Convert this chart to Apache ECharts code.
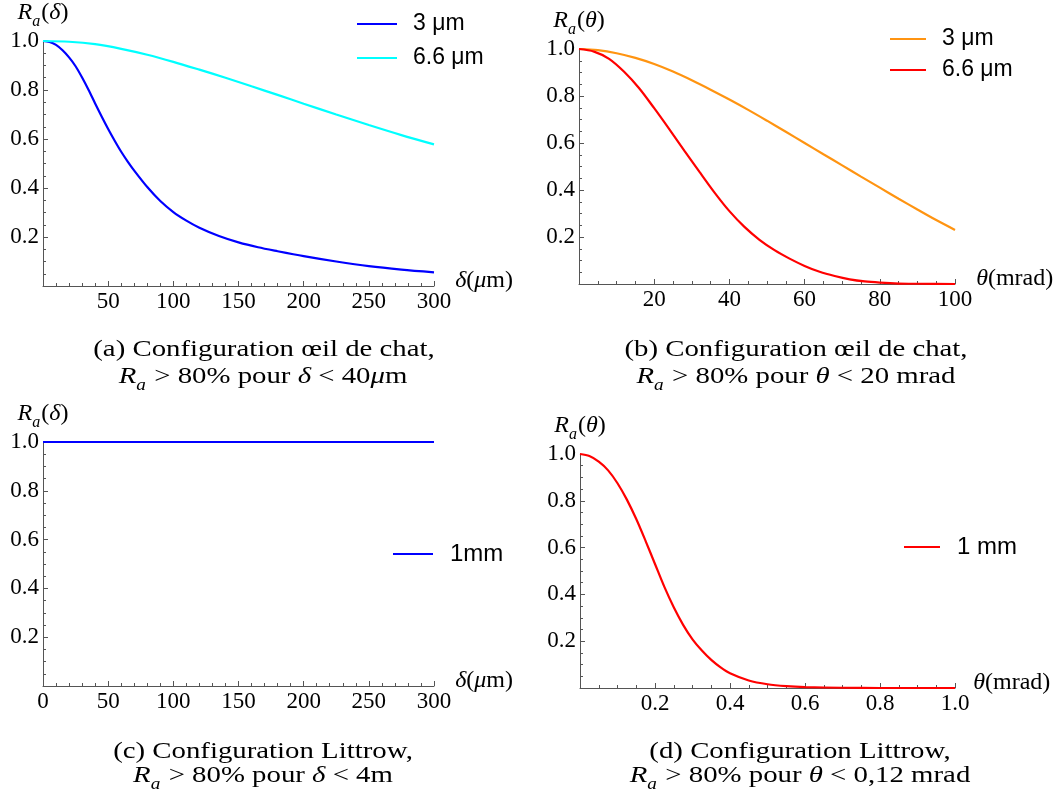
<!DOCTYPE html>
<html><head><meta charset="utf-8">
<script src="https://cdn.jsdelivr.net/npm/echarts@6/dist/echarts.min.js"></script>
<style>html,body{margin:0;padding:0;background:#fff}#c{width:1059px;height:799px}</style>
</head><body><div id="c"></div>
<script>
// ---------- data ----------
// (a) cat's eye, R_a vs delta (µm)
const deltaA3 = [0,5,10,15,20,25,30,35,40,45,50,55,60,65,70,80,90,100,110,120,135,150,165,180,200,225,250,275,300];
const ra3umA  = [1.0,0.996,0.984,0.962,0.933,0.897,0.851,0.800,0.745,0.692,0.641,0.593,0.548,0.508,0.471,0.404,0.347,0.302,0.267,0.238,0.204,0.178,0.158,0.142,0.122,0.100,0.081,0.067,0.056];
const deltaA66 = [0,20,40,60,80,100,120,140,160,180,200,225,250,275,300];
const ra66umA  = [1.0,0.997,0.987,0.968,0.944,0.915,0.883,0.85,0.815,0.78,0.744,0.70,0.657,0.616,0.578];
// (b) cat's eye, R_a vs theta (mrad)
const thetaB3 = [0,5,10,15,20,25,30,35,40,45,50,55,60,65,70,75,80,85,90,95,100];
const ra3umB  = [1.0,0.995,0.982,0.962,0.936,0.904,0.867,0.827,0.785,0.741,0.695,0.648,0.6,0.552,0.505,0.457,0.41,0.363,0.317,0.272,0.23];
const thetaB66 = [0,4,8,12,16,20,24,28,32,36,40,44,48,52,56,60,64,68,72,76,80,85,90,100];
const ra66umB  = [1.0,0.989,0.958,0.903,0.833,0.748,0.659,0.568,0.478,0.39,0.31,0.243,0.188,0.144,0.108,0.077,0.052,0.034,0.02,0.011,0.006,0.002,0.001,0];
// (c) Littrow, R_a vs delta (µm)
const deltaC = [0,100,200,300];
const ra1mmC = [1.0,1.0,1.0,1.0];
// (d) Littrow, R_a vs theta (mrad)
const thetaD = [0,0.025,0.05,0.075,0.1,0.125,0.15,0.175,0.2,0.225,0.25,0.275,0.3,0.325,0.35,0.375,0.4,0.45,0.5,0.55,0.6,0.7,0.8,1.0];
const ra1mmD = [1.0,0.991,0.967,0.93,0.875,0.805,0.722,0.628,0.53,0.432,0.345,0.27,0.208,0.16,0.12,0.088,0.063,0.032,0.016,0.008,0.004,0.001,0,0];

const legendNames = {a3:'3 μm', a66:'6.6 μm', b3:'3 μm', b66:'6.6 μm', c1:'1mm', d1:'1 mm'};
const yTickLabels = v => v.toFixed(1);

// ---------- styling helpers ----------
const AX = '#555';
const SERIF = 'Liberation Serif';
function mathRich(size) {
  const pad = Math.round(size * 0.2);
  const base = {fontFamily: SERIF, fontSize: size, lineHeight: size, color: '#000', verticalAlign: 'bottom', padding: [0, 0, pad, 0]};
  const sub = Math.round(size * 0.68);
  return {
    i: Object.assign({}, base, {fontStyle: 'italic'}),
    r: Object.assign({}, base),
    s: {fontFamily: SERIF, fontStyle: 'italic', fontSize: sub, lineHeight: sub, color: '#000', verticalAlign: 'bottom', padding: [0, 1, 0, 0]}
  };
}
const pairs = (xs, ys) => xs.map((x, i) => [x, ys[i]]);

function xAxis(gi, max, interval, minorSplit, showMin, fmt, name) {
  return {
    type: 'value', gridIndex: gi, min: 0, max: max, interval: interval,
    axisLine: {show: true, onZero: false, lineStyle: {color: AX, width: 1}},
    axisTick: {show: true, inside: true, length: 5, lineStyle: {color: AX}},
    minorTick: {show: true, splitNumber: minorSplit, length: 3, lineStyle: {color: AX}},
    splitLine: {show: false},
    axisLabel: {showMinLabel: showMin, showMaxLabel: true, margin: 4, color: '#000', fontFamily: SERIF, fontSize: 23, formatter: fmt},
    name: name, nameLocation: 'end', nameGap: 13,
    nameTextStyle: {rich: mathRich(24)}
  };
}
function yAxis(gi, name) {
  return {
    type: 'value', gridIndex: gi, min: 0, max: 1, interval: 0.2,
    axisLine: {show: true, onZero: false, lineStyle: {color: AX, width: 1}},
    axisTick: {show: true, inside: true, length: 5, lineStyle: {color: AX}},
    minorTick: {show: true, splitNumber: 4, length: 3, lineStyle: {color: AX}},
    splitLine: {show: false},
    axisLabel: {showMinLabel: false, margin: 4, color: '#000', fontFamily: SERIF, fontSize: 23, formatter: yTickLabels},
    name: name, nameLocation: 'end', nameGap: 3,
    nameTextStyle: {rich: mathRich(24)}
  };
}
function lineSeries(id, gi, xs, ys, color) {
  return {
    name: id, type: 'line', xAxisIndex: gi, yAxisIndex: gi,
    data: pairs(xs, ys), showSymbol: false, symbol: 'none',
    smooth: 0.3, clip: false,
    lineStyle: {color: color, width: 2.2}, itemStyle: {color: color},
    emphasis: {disabled: true}
  };
}
function legend(ids, left, top, itemWidth, gap, textPad, fontSize) {
  return {
    data: ids, orient: 'vertical', left: left, top: top, padding: 0,
    icon: 'rect', itemWidth: itemWidth, itemHeight: 2, itemGap: gap, selectedMode: false,
    formatter: n => legendNames[n],
    textStyle: {fontFamily: 'Liberation Sans', fontSize: fontSize, lineHeight: 24, color: '#000', padding: [0, 0, 0, textPad]}
  };
}
function caption(x, y, text, rich) {
  const st = {text: text, x: 0, y: 0, align: 'center', verticalAlign: 'middle', fill: '#000',
              fontFamily: SERIF, fontSize: 24};
  if (rich) st.rich = rich;
  return {type: 'text', x: x, y: y, scaleX: 1.2, style: st, silent: true};
}
const capRich = mathRich(24);
capRich.r.padding = [0, 0, 5, 0];
capRich.i.padding = [0, 0, 5, 0];

const yNameDelta = '{i|R}{s|a}{r|(}{i|δ}{r|)}';
const yNameTheta = '{i|R}{s|a}{r|(}{i|θ}{r|)}';
const xNameDelta = '{i|δ}{r|(}{i|μ}{r|m)}';
const xNameTheta = '{i|θ}{r|(mrad)}';

const option = {
  animation: false,
  backgroundColor: '#fff',
  grid: [
    {left: 43, top: 41, width: 391, height: 245},
    {left: 579, top: 49, width: 376, height: 235},
    {left: 43, top: 442, width: 391, height: 244},
    {left: 580, top: 454, width: 375, height: 234}
  ],
  xAxis: [
    xAxis(0, 300, 50, 5, false, v => String(v), xNameDelta),
    xAxis(1, 100, 20, 4, false, v => String(v), xNameTheta),
    xAxis(2, 300, 50, 5, true, v => String(v), xNameDelta),
    xAxis(3, 1, 0.2, 4, false, v => v.toFixed(1), xNameTheta)
  ],
  yAxis: [yAxis(0, yNameDelta), yAxis(1, yNameTheta), yAxis(2, yNameDelta), yAxis(3, yNameTheta)],
  legend: [
    legend(['a3', 'a66'], 357, 12, 40, 10, 11, 23),
    legend(['b3', 'b66'], 890, 27, 36, 7, 11, 23),
    legend(['c1'], 393, 542, 40, 10, 12, 24),
    legend(['d1'], 904, 535, 36, 10, 12, 24)
  ],
  series: [
    lineSeries('a3', 0, deltaA3, ra3umA, '#0000FF'),
    lineSeries('a66', 0, deltaA66, ra66umA, '#00FFFF'),
    lineSeries('b3', 1, thetaB3, ra3umB, '#FF9411'),
    lineSeries('b66', 1, thetaB66, ra66umB, '#FF0000'),
    lineSeries('c1', 2, deltaC, ra1mmC, '#0000FF'),
    lineSeries('d1', 3, thetaD, ra1mmD, '#FF0000')
  ],
  graphic: [
    caption(264, 350, '(a) Configuration œil de chat,'),
    caption(263, 382, '{i|R}{s|a}{r| > 80% pour }{i|δ}{r| < 40}{i|μ}{r|m}', capRich),
    caption(796, 350, '(b) Configuration œil de chat,'),
    caption(796, 382, '{i|R}{s|a}{r| > 80% pour }{i|θ}{r| < 20 mrad}', capRich),
    caption(263, 752, '(c) Configuration Littrow,'),
    caption(263, 781, '{i|R}{s|a}{r| > 80% pour }{i|δ}{r| < 4m}', capRich),
    caption(800, 752, '(d) Configuration Littrow,'),
    caption(800, 781, '{i|R}{s|a}{r| > 80% pour }{i|θ}{r| < 0,12 mrad}', capRich)
  ]
};
const chart = echarts.init(document.getElementById('c'), null, {renderer: 'canvas'});
chart.setOption(option);
</script>
</body></html>
